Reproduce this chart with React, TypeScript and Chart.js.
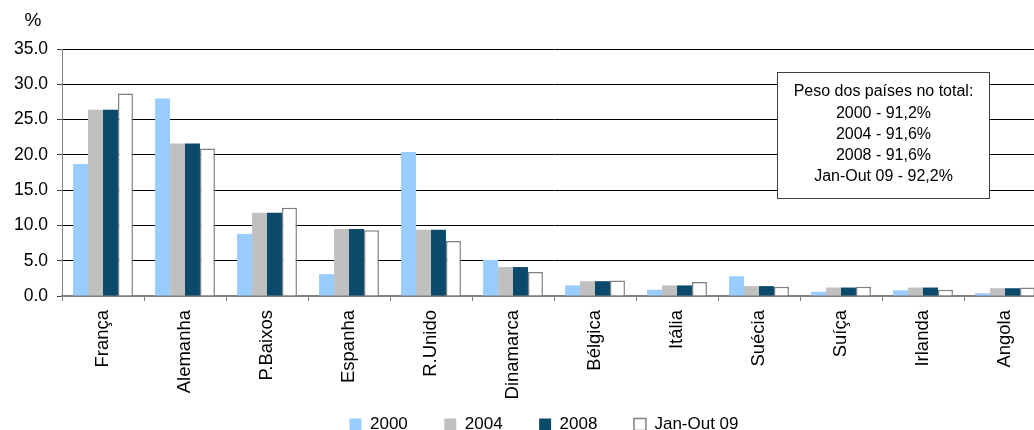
import React, { useEffect, useRef } from "react";
import { Chart, registerables } from "chart.js";

Chart.register(...registerables);

const categories = [
  "França",
  "Alemanha",
  "P.Baixos",
  "Espanha",
  "R.Unido",
  "Dinamarca",
  "Bélgica",
  "Itália",
  "Suécia",
  "Suíça",
  "Irlanda",
  "Angola",
];
const seriesLabels = ["2000", "2004", "2008", "Jan-Out 09"];
const values2000 = [18.7, 28.0, 8.8, 3.1, 20.4, 5.1, 1.5, 0.9, 2.8, 0.6, 0.8, 0.4];
const values2004 = [26.4, 21.6, 11.8, 9.5, 9.4, 4.1, 2.1, 1.5, 1.4, 1.2, 1.2, 1.1];
const values2008 = [26.4, 21.6, 11.8, 9.5, 9.4, 4.1, 2.1, 1.5, 1.4, 1.2, 1.2, 1.1];
const valuesJanOut09 = [28.7, 20.9, 12.5, 9.3, 7.8, 3.4, 2.2, 2.0, 1.3, 1.3, 0.9, 1.2];
const yMin = 0;
const yMax = 35;
const yStep = 5;
const unitLabel = "%";
const noteLines = [
  "Peso dos países no total:",
  "2000 - 91,2%",
  "2004 - 91,6%",
  "2008 - 91,6%",
  "Jan-Out 09 - 92,2%",
];

const FONT = '"Liberation Sans", Arial, sans-serif';

// let tick labels extend beyond the narrowed axis boxes (no label clipping)
const unclipPlugin = {
  id: "unclip",
  afterLayout(chart: any) {
    const y = chart.scales.y;
    const x = chart.scales.x;
    if (y) y.left = 0;
    if (x) x.bottom = chart.height;
  },
};

const overlayPlugin = {
  id: "overlay",
  afterDraw(chart: any) {
    const ctx = chart.ctx;
    ctx.save();
    ctx.fillStyle = "#000";
    ctx.textAlign = "center";
    ctx.textBaseline = "middle";
    ctx.font = `19px ${FONT}`;
    ctx.fillText(unitLabel, 33, 21);

    // note box
    const bx = 777.5;
    const by = 72.5;
    const bw = 212;
    const bh = 126;
    ctx.fillStyle = "#fff";
    ctx.fillRect(bx, by, bw, bh);
    ctx.strokeStyle = "#404040";
    ctx.lineWidth = 1;
    ctx.strokeRect(bx, by, bw, bh);
    ctx.fillStyle = "#000";
    ctx.font = `16px ${FONT}`;
    noteLines.forEach((line, i) => {
      ctx.fillText(line, bx + bw / 2, 92 + i * 21.2);
    });
    ctx.restore();
  },
};

export default function App() {
  const canvasRef = useRef<HTMLCanvasElement | null>(null);

  useEffect(() => {
    document.body.style.margin = "0";
    document.body.style.overflow = "hidden";
    const canvas = canvasRef.current;
    if (!canvas) return;
    const chart = new Chart(canvas, {
      type: "bar",
      data: {
        labels: categories,
        datasets: [
          {
            label: seriesLabels[0],
            data: values2000,
            backgroundColor: "#99CCFF",
            borderWidth: 0,
          },
          {
            label: seriesLabels[1],
            data: values2004,
            backgroundColor: "#C0C0C0",
            borderWidth: 0,
          },
          {
            label: seriesLabels[2],
            data: values2008,
            backgroundColor: "#0B4A6B",
            borderWidth: 0,
          },
          {
            label: seriesLabels[3],
            data: valuesJanOut09,
            backgroundColor: "#FFFFFF",
            borderColor: "#808080",
            borderWidth: 1.5,
          },
        ],
      },
      options: {
        responsive: false,
        animation: false,
        devicePixelRatio: 1,
        layout: { padding: { top: 49, left: 42, right: 0, bottom: 0 } },
        datasets: {
          bar: { categoryPercentage: 0.73, barPercentage: 1.0 },
        },
        plugins: {
          legend: {
            display: true,
            position: "bottom",
            labels: {
              boxWidth: 12,
              boxHeight: 12,
              padding: 36.5,
              color: "#000",
              font: { family: FONT, size: 17 },
            },
          },
          tooltip: { enabled: false },
          title: { display: false },
        },
        scales: {
          x: {
            grid: {
              offset: true,
              drawOnChartArea: false,
              drawTicks: true,
              tickLength: 5,
              color: "#808080",
            },
            border: { color: "#808080", width: 2 },
            ticks: {
              autoSkip: false,
              minRotation: 90,
              maxRotation: 90,
              padding: 9,
              color: "#000",
              font: { family: FONT, size: 18.5 },
            },
            afterFit(scale: any) {
              scale.height = 83.5;
            },
          },
          y: {
            min: yMin,
            max: yMax,
            grid: {
              color: "#000",
              lineWidth: 1,
              drawTicks: true,
              tickLength: 5,
              tickColor: "#404040",
            },
            border: { color: "#808080", width: 1 },
            ticks: {
              stepSize: yStep,
              padding: 9,
              color: "#000",
              font: { family: FONT, size: 17.5 },
              callback: (v: any) => Number(v).toFixed(1),
            },
            afterFit(scale: any) {
              scale.width = 20;
            },
          },
        },
      },
      plugins: [unclipPlugin, overlayPlugin],
    });
    return () => chart.destroy();
  }, []);

  return (
    <div style={{ width: 1034, height: 430, overflow: "hidden", background: "#fff" }}>
      <canvas ref={canvasRef} width={1046} height={443} style={{ display: "block" }} />
    </div>
  );
}
